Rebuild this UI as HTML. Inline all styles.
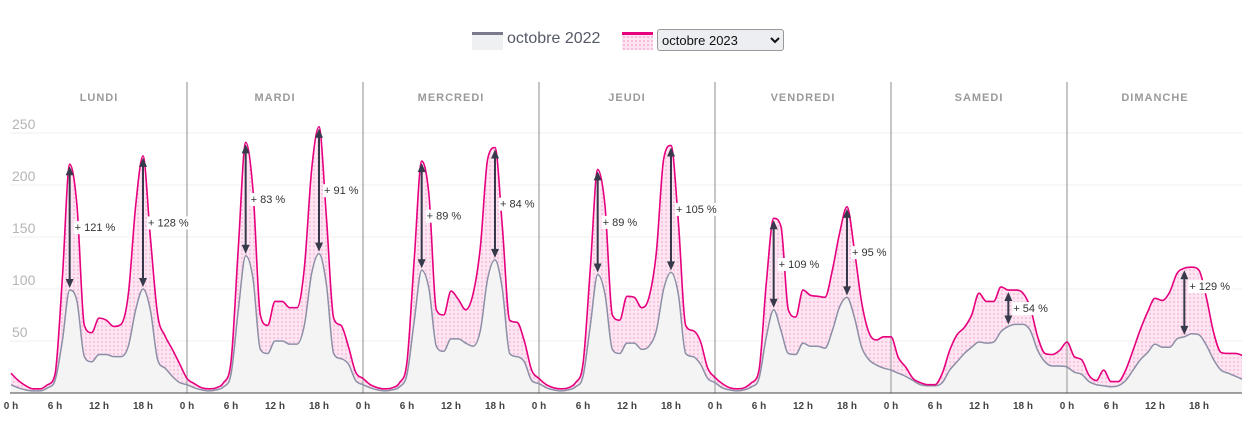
<!DOCTYPE html>
<html><head><meta charset="utf-8"><style>
body{margin:0;background:#fff;width:1242px;height:426px;overflow:hidden;font-family:"Liberation Sans",sans-serif}
.sw{position:absolute;width:31px;height:15px}
</style></head><body>
<svg id="chart" width="1242" height="426" style="position:absolute;left:0;top:0">
<defs><pattern id="dots" width="4" height="4" patternUnits="userSpaceOnUse"><rect width="4" height="4" fill="#fde6f2"/><circle cx="2" cy="2" r="1" fill="#f7bcdc"/></pattern></defs>
</svg>
<div style="position:absolute;left:0;top:0;width:1242px;height:60px">
 <div class="sw" style="left:472px;top:32px;background:#eff0f1;border-top:3px solid #7a7a8c"></div>
 <div style="position:absolute;left:507px;top:30px;font-size:16px;color:#555a66">octobre 2022</div>
 <div class="sw" style="left:622px;top:32px;border-top:3px solid #e6007e;background-color:#fde4f1;background-image:radial-gradient(#f8b8da 1px,transparent 1.2px);background-size:4px 4px"></div>
 <select style="position:absolute;left:657px;top:29px;width:127px;height:22px;font-size:13px;font-family:'Liberation Sans',sans-serif;border:1px solid #999;border-radius:3px;background:#eceef2;color:#111"><option>octobre 2023</option></select>
</div>
<script>
const days=["LUNDI","MARDI","MERCREDI","JEUDI","VENDREDI","SAMEDI","DIMANCHE"];
const yTicks=[50,100,150,200,250];
const xTickLabels=["0 h","6 h","12 h","18 h"];
const v2023=[
19,12,7,4,4,8,18,110,220,180,65,58,72,70,64,66,95,180,228,150,75,55,42,28,
14,9,5,4,5,10,30,140,241,195,75,65,88,88,82,82,120,215,256,170,72,65,45,20,
14,8,5,4,5,10,30,130,223,190,80,75,98,90,80,95,140,225,236,160,70,68,50,22,
14,8,5,4,5,10,28,120,215,180,75,70,93,92,82,92,135,225,238,165,65,60,50,24,
15,9,5,4,5,10,22,106,168,160,80,73,99,94,93,92,118,154,179,138,87,58,51,54,
54,34,25,14,10,8,8,19,41,56,63,75,96,88,88,102,99,99,96,82,54,38,37,41,
49,35,32,17,12,22,11,11,22,41,61,78,91,89,97,115,120,121,118,92,58,39,38,38,36];
const v2022=[
8,5,3,2,2,5,12,50,99,88,35,30,37,37,35,35,45,80,100,80,32,24,16,10,
8,5,3,2,3,6,18,80,132,110,42,38,50,50,47,47,65,115,134,105,38,33,28,12,
8,5,3,2,3,6,18,70,118,100,45,40,52,52,48,45,60,110,128,100,38,35,30,12,
9,5,3,2,3,6,16,65,114,95,42,38,48,48,42,45,60,100,116,95,38,35,28,14,
10,5,3,2,3,6,14,54,80,60,38,37,48,45,45,43,60,83,92,73,44,32,27,24,
22,19,16,12,8,7,7,10,22,30,38,44,49,48,49,59,64,66,66,60,41,30,26,26,
25,20,18,11,8,7,6,7,12,22,32,39,47,44,44,52,54,57,56,46,32,22,19,16,13];
const annDay=[0,0,1,1,2,2,3,3,4,4,5,6];
const annHour=[8,18,8,18,8,18,8,18,8,18,16,16];
const annLabel=["+ 121 %","+ 128 %","+ 83 %","+ 91 %","+ 89 %","+ 84 %","+ 89 %","+ 105 %","+ 109 %","+ 95 %","+ 54 %","+ 129 %"];

const svg=document.getElementById('chart');const NS="http://www.w3.org/2000/svg";
const X0=11,DW=176,Y0=393,PX=1.04;
const xs=h=>X0+h*DW/24, ys=v=>Y0-v*PX;
function mk(t,a,p){const e=document.createElementNS(NS,t);for(const k in a)e.setAttribute(k,a[k]);(p||svg).appendChild(e);return e;}
function pathD(vals){
 const P=vals.map((v,i)=>[xs(i),ys(v)]),N=P.length,dx=P[1][0]-P[0][0];
 const s=[];for(let i=0;i<N-1;i++)s.push((P[i+1][1]-P[i][1])/dx);
 const m=[s[0]];for(let i=1;i<N-1;i++){m.push(s[i-1]*s[i]<=0?0:(s[i-1]+s[i])/2);}m.push(s[N-2]);
 for(let i=0;i<N-1;i++){if(s[i]===0){m[i]=0;m[i+1]=0;continue;}const a=m[i]/s[i],b=m[i+1]/s[i],h=a*a+b*b;if(h>9){const t=3/Math.sqrt(h);m[i]=t*a*s[i];m[i+1]=t*b*s[i];}}
 let d="M"+P[0][0]+","+P[0][1];
 for(let i=0;i<N-1;i++){d+=` C${P[i][0]+dx/3},${P[i][1]+m[i]*dx/3} ${P[i+1][0]-dx/3},${P[i+1][1]-m[i+1]*dx/3} ${P[i+1][0]},${P[i+1][1]}`;}
 return d;}
yTicks.forEach(t=>{const g=mk('line',{x1:10,x2:1242,y1:ys(t),y2:ys(t),stroke:'#efefef'});


const l=mk('text',{x:12,y:ys(t)-4,'font-size':14,fill:'#b5b5b5'});l.textContent=t;

});
const n=v2023.length-1, endX=xs(n);
const topD=pathD(v2023), botD=pathD(v2022);
const a1=mk('path',{d:topD+` L${endX},${Y0} L${X0},${Y0}Z`,fill:'url(#dots)'});


const a2=mk('path',{d:botD+` L${endX},${Y0} L${X0},${Y0}Z`,fill:'#f4f4f4'});


days.forEach((d,i)=>{if(i>0){const s=mk('line',{x1:X0+i*DW,x2:X0+i*DW,y1:82,y2:Y0,stroke:'#b3b3b3','stroke-width':1.5});

}
const t=mk('text',{x:X0+i*DW+DW/2,y:101,'text-anchor':'middle','font-size':11,'font-weight':'bold',fill:'#9a9a9a','letter-spacing':'1'});t.textContent=d;


for(let k=0;k<4;k++){const tl=mk('text',{x:X0+i*DW+k*DW/4,y:409,'text-anchor':'middle','font-size':10,'font-weight':'bold',fill:'#444'});tl.textContent=xTickLabels[k];

}});
const l2=mk('path',{d:botD,fill:'none',stroke:'#8c8fa6','stroke-width':1.5});


const l1=mk('path',{d:topD,fill:'none',stroke:'#e6007e','stroke-width':1.6});


const ax=mk('line',{x1:10,x2:1242,y1:Y0,y2:Y0,stroke:'#444','stroke-width':1});


annDay.forEach((d,i)=>{const h=d*24+annHour[i];const a=v2023[h],b=v2022[h];
const X=xs(h),ya=ys(a)+2,yb=ys(b)-2;
const ar=mk('line',{x1:X,x2:X,y1:yb-6,y2:ya+6,stroke:'#363a4a','stroke-width':2});


const h1=mk('polygon',{points:`${X-4},${ya+9} ${X},${ya} ${X+4},${ya+9}`,fill:'#363a4a'});


const h2=mk('polygon',{points:`${X-4},${yb-9} ${X},${yb} ${X+4},${yb-9}`,fill:'#363a4a'});


const my=d>=5? ys(a)+22 : (ys(a)+ys(b))/2+4;
const w=annLabel[i].length*6.2;
const bg=mk('rect',{x:X+4,y:my-10,width:w,height:13,fill:'#fff'});


const t=mk('text',{x:X+5,y:my,'font-size':11,fill:'#333'});t.textContent=annLabel[i];

});
</script>
</body></html>
